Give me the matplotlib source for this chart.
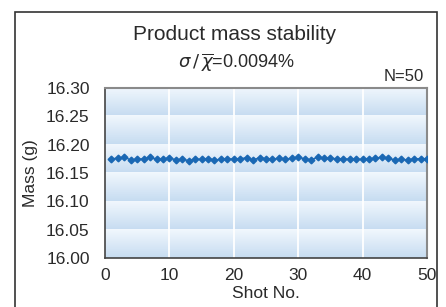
import numpy as np
import matplotlib
matplotlib.use("Agg")
import matplotlib.pyplot as plt
from matplotlib.colors import LinearSegmentedColormap
from matplotlib.patches import Rectangle

plt.rcParams["font.family"] = ["Liberation Sans", "DejaVu Sans"]
plt.rcParams["mathtext.fontset"] = "dejavusans"

shot_no = np.arange(1, 51)
mass_g = [
    16.175, 16.176, 16.178, 16.173, 16.174, 16.175, 16.178, 16.174, 16.174, 16.177,
    16.173, 16.174, 16.172, 16.174, 16.174, 16.175, 16.173, 16.174, 16.174, 16.175,
    16.175, 16.177, 16.173, 16.177, 16.175, 16.174, 16.176, 16.174, 16.176, 16.178,
    16.175, 16.173, 16.178, 16.176, 16.176, 16.175, 16.175, 16.174, 16.174, 16.174,
    16.175, 16.176, 16.178, 16.176, 16.173, 16.174, 16.173, 16.175, 16.175, 16.175,
]
y_ticks = [16.00, 16.05, 16.10, 16.15, 16.20, 16.25, 16.30]
x_ticks = [0, 10, 20, 30, 40, 50]

fig = plt.figure(figsize=(4.46, 3.07), dpi=100)
ax = fig.add_axes([0.2354, 0.1596, 0.7220, 0.5538])

# outer frame, runs off the bottom edge
fig.patches.append(Rectangle((0.034, -0.2), 0.946, 1.161, transform=fig.transFigure,
                             fill=False, edgecolor="#333333", linewidth=1.2))

# banded gradient background: light at the top of each band, blue at the bottom
cmap = LinearSegmentedColormap.from_list("band", ["#c6dcf1", "#f1f7fd"])
rows = 600
frac = (np.arange(rows) + 0.5) / rows * 6 % 1.0
grad = frac[::-1].reshape(-1, 1)
ax.imshow(grad, cmap=cmap, aspect="auto", extent=[0, 50, 16.0, 16.3],
          interpolation="nearest", zorder=0)

for x in x_ticks[1:-1]:
    ax.axvline(x, color="white", linewidth=1.3, zorder=1)

ax.plot(shot_no, mass_g, color="#1a68b4", marker="D", markersize=3.4,
        linewidth=1.0, zorder=3)

txt = "#2a2a2a"
ax.set_xlim(0, 50)
ax.set_ylim(16.0, 16.3)
ax.set_xticks(x_ticks)
ax.set_yticks(y_ticks)
ax.set_yticklabels([f"{v:.2f}" for v in y_ticks])
ax.tick_params(length=0, labelsize=12.5, colors=txt)
ax.tick_params(axis="y", pad=11)
ax.tick_params(axis="x", pad=7)
ax.set_xlabel("Shot No.", fontsize=12.5, labelpad=2, color=txt)
ax.set_ylabel("Mass (g)", fontsize=12.5, labelpad=6, color=txt)

for side in ["left", "bottom"]:
    ax.spines[side].set_color("#444444")
    ax.spines[side].set_linewidth(1.2)
for side in ["top", "right"]:
    ax.spines[side].set_color("#8a8a8a")
    ax.spines[side].set_linewidth(1.5)

fig.text(0.527, 0.888, "Product mass stability", ha="center", va="center",
         fontsize=15, color=txt)
fig.text(0.530, 0.798, r"$\sigma\,/\,\overline{\chi}$=0.0094%", ha="center", va="center",
         fontsize=13, color=txt)
fig.text(0.950, 0.752, "N=50", ha="right", va="center", fontsize=12, color=txt)

fig.savefig("out.png", dpi=100)
